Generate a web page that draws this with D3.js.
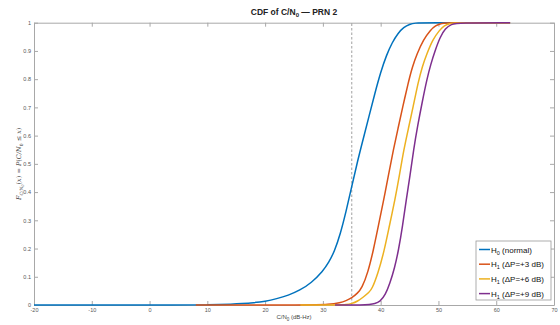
<!DOCTYPE html>
<html>
<head>
<meta charset="utf-8">
<script src="https://cdn.jsdelivr.net/npm/d3@7"></script>
<style>
  body { margin: 0; background: #fff; }
  text { font-family: "Liberation Sans", Arial, sans-serif; }
</style>
</head>
<body>
<div id="chart"></div>
<script>
// 1. Data
const h0 = [[-20,0],[8,0],[10,0.0005],[12,0.0015],[14,0.003],[16,0.005],[18,0.008],[20,0.013],[22,0.022],[24,0.034],[26,0.052],[28,0.078],[30,0.12],[31,0.15],[32,0.19],[33,0.25],[34,0.33],[35,0.42],[36,0.51],[37,0.59],[38,0.67],[39,0.75],[40,0.825],[41,0.885],[42,0.93],[43,0.963],[44,0.984],[45,0.995],[46,0.999],[47.5,1],[62.4,1]];
const h1p3 = [[8,0],[28,0],[31,0.002],[33,0.008],[34,0.015],[35,0.025],[36,0.042],[36.75,0.06],[37.8,0.115],[38.75,0.195],[39.6,0.28],[40.5,0.37],[41.4,0.465],[42.2,0.55],[43,0.625],[43.8,0.7],[44.8,0.79],[45.5,0.845],[46.3,0.89],[47.4,0.94],[48.6,0.974],[49.5,0.99],[50.5,0.998],[52,1],[62.4,1]];
const h1p6 = [[26.1,0],[33,0],[34,0.001],[35,0.005],[36,0.013],[37,0.028],[38,0.045],[38.5,0.057],[39.5,0.11],[40.6,0.19],[41.5,0.28],[42.5,0.375],[43.3,0.465],[44,0.55],[44.8,0.625],[45.6,0.7],[46.5,0.79],[47.2,0.845],[48,0.89],[49,0.94],[50.2,0.974],[51,0.99],[52,0.998],[53.5,1],[62.4,1]];
const h1p9 = [[32.1,0],[37,0],[38,0.002],[39,0.005],[39.9,0.012],[40.8,0.035],[41.6,0.077],[42.4,0.13],[43.1,0.195],[43.8,0.28],[44.4,0.37],[45.1,0.46],[45.7,0.55],[46.4,0.635],[47.2,0.72],[48,0.8],[48.7,0.855],[49.4,0.9],[50.3,0.95],[51.2,0.98],[52.2,0.995],[53.5,1],[62.4,1]];

const seriesNames = ["H0", "H1 +3", "H1 +6", "H1 +9"];
const seriesData = [h0, h1p3, h1p6, h1p9];
const seriesColors = ["#0072BD", "#D95319", "#EDB120", "#7E2F8E"];
const legendMain = ["H", "H", "H", "H"];
const legendSub = ["0", "1", "1", "1"];
const legendRest = [" (normal)", " (\u0394P=+3 dB)", " (\u0394P=+6 dB)", " (\u0394P=+9 dB)"];

const xTicks = [-20, -10, 0, 10, 20, 30, 40, 50, 60, 70];
const yTicks = [0, 0.1, 0.2, 0.3, 0.4, 0.5, 0.6, 0.7, 0.8, 0.9, 1];
const threshold = 35;

// 2. Dimensions
const dims = { width: 560, height: 325, left: 34, right: 554, top: 22.7, bottom: 305 };

// 3. Container
const svg = d3.select("#chart").append("svg")
  .attr("width", dims.width)
  .attr("height", dims.height);

// 4. Scales
const xScale = d3.scaleLinear().domain([-20, 70]).range([dims.left, dims.right]);
const yScale = d3.scaleLinear().domain([0, 1]).range([dims.bottom, dims.top]);

// 5. Axes (box with inward ticks on all sides)
const axisColor = "#a8a8a8";
const labelColor = "#555";
const fmt = d => String(+d.toFixed(1));

function styleAxis(g) {
  g.select(".domain").attr("stroke", axisColor).attr("stroke-width", 1);
  g.selectAll(".tick line").attr("stroke", axisColor);
  g.selectAll(".tick text").attr("fill", labelColor).style("font-size", "5.5px");
}

svg.append("g")
  .attr("transform", `translate(0,${dims.bottom})`)
  .call(d3.axisBottom(xScale).tickValues(xTicks).tickFormat(fmt).tickSizeInner(-4).tickSizeOuter(0).tickPadding(3))
  .call(styleAxis);
svg.append("g")
  .attr("transform", `translate(0,${dims.top})`)
  .call(d3.axisTop(xScale).tickValues(xTicks).tickFormat("").tickSizeInner(-4).tickSizeOuter(0))
  .call(styleAxis);
svg.append("g")
  .attr("transform", `translate(${dims.left},0)`)
  .call(d3.axisLeft(yScale).tickValues(yTicks).tickFormat(fmt).tickSizeInner(-4).tickSizeOuter(0).tickPadding(3))
  .call(styleAxis);
svg.append("g")
  .attr("transform", `translate(${dims.right},0)`)
  .call(d3.axisRight(yScale).tickValues(yTicks).tickFormat("").tickSizeInner(-4).tickSizeOuter(0))
  .call(styleAxis);

// threshold line
svg.append("line")
  .attr("x1", xScale(threshold)).attr("x2", xScale(threshold))
  .attr("y1", yScale(0)).attr("y2", yScale(1))
  .attr("stroke", "#777").attr("stroke-width", 0.7)
  .attr("stroke-dasharray", "2.5,2");

// 6. Draw curves
const lineGenerator = d3.line()
  .x(d => xScale(d[0]))
  .y(d => yScale(d[1]))
  .curve(d3.curveBasis);

seriesData.forEach((data, i) => {
  svg.append("path")
    .datum(data)
    .attr("d", lineGenerator)
    .attr("fill", "none")
    .attr("stroke", seriesColors[i])
    .attr("stroke-width", 1.5);
});

// Title
const title = svg.append("text")
  .attr("x", (dims.left + dims.right) / 2)
  .attr("y", 14.5)
  .attr("text-anchor", "middle")
  .style("font-size", "8.5px")
  .style("font-weight", "bold")
  .attr("fill", "#222");
title.append("tspan").text("CDF of C/N");
title.append("tspan").attr("dy", 2.5).style("font-size", "6px").text("0");
title.append("tspan").attr("dy", -2.5).text(" \u2014 PRN 2");

// X label
const xLabel = svg.append("text")
  .attr("x", (dims.left + dims.right) / 2)
  .attr("y", 319)
  .attr("text-anchor", "middle")
  .style("font-size", "6px")
  .attr("fill", "#444");
xLabel.append("tspan").text("C/N");
xLabel.append("tspan").attr("dy", 1.8).style("font-size", "4.5px").text("0");
xLabel.append("tspan").attr("dy", -1.8).text(" (dB-Hz)");

// Y label
const yLabel = svg.append("text")
  .attr("transform", `translate(21,${(dims.top + dims.bottom) / 2}) rotate(-90)`)
  .attr("text-anchor", "middle")
  .style("font-size", "6.5px")
  .style("font-family", "'DejaVu Serif', 'Liberation Serif', serif")
  .attr("fill", "#444");
yLabel.append("tspan").style("font-style", "italic").text("F");
yLabel.append("tspan").attr("dy", 1.8).style("font-size", "4.5px").style("font-style", "italic").text("C/N");
yLabel.append("tspan").attr("dy", 1).style("font-size", "3.5px").style("font-style", "italic").text("0");
yLabel.append("tspan").attr("dy", -2.8).text("(");
yLabel.append("tspan").style("font-style", "italic").text("x");
yLabel.append("tspan").text(") = ");
yLabel.append("tspan").style("font-style", "italic").text("P");
yLabel.append("tspan").text("(");
yLabel.append("tspan").style("font-style", "italic").text("C/N");
yLabel.append("tspan").attr("dy", 1.5).style("font-size", "4.5px").text("0");
yLabel.append("tspan").attr("dy", -1.5).text(" \u2264 ");
yLabel.append("tspan").style("font-style", "italic").text("x");
yLabel.append("tspan").text(")");

// Legend
const legend = svg.append("g").attr("transform", "translate(476,241)");
legend.append("rect")
  .attr("width", 75).attr("height", 59)
  .attr("fill", "#fff")
  .attr("stroke", "#9a9a9a").attr("stroke-width", 0.8);

seriesNames.forEach((name, i) => {
  const y = 8.5 + i * 14.7;
  legend.append("line")
    .attr("x1", 3).attr("x2", 14)
    .attr("y1", y).attr("y2", y)
    .attr("stroke", seriesColors[i]).attr("stroke-width", 1.5);
  const t = legend.append("text")
    .attr("x", 15)
    .attr("y", y + 3)
    .style("font-size", "8px")
    .attr("fill", "#111");
  t.append("tspan").text(legendMain[i]);
  t.append("tspan").attr("dy", 2.2).style("font-size", "5.5px").text(legendSub[i]);
  t.append("tspan").attr("dy", -2.2).text(legendRest[i]);
});
</script>
</body>
</html>
